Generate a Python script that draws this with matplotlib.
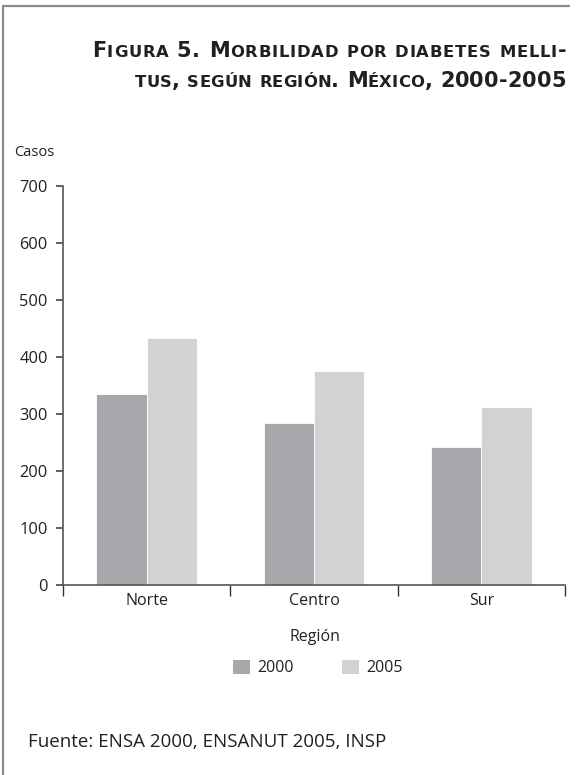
import matplotlib
matplotlib.use("Agg")
import matplotlib.pyplot as plt
import numpy as np
from matplotlib.lines import Line2D
from matplotlib.patches import Patch

regions = ["Norte", "Centro", "Sur"]
years = ["2000", "2005"]
values_2000 = [335, 284, 242]
values_2005 = [433, 375, 312]
y_ticks = [0, 100, 200, 300, 400, 500, 600, 700]

title_line1 = "Figura 5. Morbilidad por diabetes melli-"
title_line2 = "tus, según región. México, 2000-2005"
source_text = "Fuente: ENSA 2000, ENSANUT 2005, INSP"

c2000 = "#a7a8ab"
c2005 = "#d1d2d4"
txt = "#231f20"
axc = "#555555"

W, H = 576, 775
fig = plt.figure(figsize=(W / 100, H / 100), dpi=100)
fig.patch.set_facecolor("white")

body_font = "Open Sans"
title_font = "DejaVu Sans"

# frame lines
fig.add_artist(Line2D([3 / W, 3 / W], [0, 1 - 6 / H], transform=fig.transFigure,
                      color="#8a8a8a", lw=1.6, solid_capstyle="butt"))
fig.add_artist(Line2D([2.2 / W, 570 / W], [1 - 6 / H, 1 - 6 / H], transform=fig.transFigure,
                      color="#8a8a8a", lw=1.6, solid_capstyle="butt"))

ax = fig.add_axes([63 / W, 1 - 585 / H, (565 - 63) / W, (585 - 186) / H])
x = np.arange(len(regions))
bw = 0.3
ax.bar(x - bw / 2, values_2000, width=bw, color=c2000, edgecolor="white", linewidth=0.6, label=years[0])
ax.bar(x + bw / 2, values_2005, width=bw, color=c2005, edgecolor="white", linewidth=0.6, label=years[1])

ax.set_xlim(-0.5, 2.5)
ax.set_ylim(0, 700)
for s in ["top", "right"]:
    ax.spines[s].set_visible(False)
for s in ["left", "bottom"]:
    ax.spines[s].set_color(axc)
    ax.spines[s].set_linewidth(1.2)

ax.set_yticks(y_ticks)
ax.set_yticklabels([str(v) for v in y_ticks], fontsize=11.8, color=txt, family=body_font)
ax.tick_params(axis="y", direction="out", length=5, width=1.1, color="#333333", pad=6)

ax.set_xticks([-0.5, 0.5, 1.5, 2.5])
ax.set_xticklabels([])
ax.tick_params(axis="x", which="major", direction="out", length=8, width=1.0, color="#333333")
ax.set_xticks(x, minor=True)
ax.set_xticklabels(regions, minor=True, fontsize=11.5, color=txt, family=body_font)
ax.tick_params(axis="x", which="minor", length=0, pad=6)

fig.text(14 / W, 1 - 153 / H, "Casos", fontsize=10.5, color=txt, family=body_font, va="center", ha="left")
fig.text(315 / W, 1 - 637 / H, "Región", fontsize=11.5, color=txt, family=body_font, va="center", ha="center")

handles = [Patch(facecolor=c2000, edgecolor="none"), Patch(facecolor=c2005, edgecolor="none")]
leg = fig.legend(handles, years, loc="center", bbox_to_anchor=(318 / W, 1 - 668 / H), ncol=2,
                 frameon=False, handlelength=1.05, handleheight=1.05, handletextpad=0.5,
                 columnspacing=3.0, prop={"family": body_font, "size": 11.5})
for t in leg.get_texts():
    t.set_color(txt)

fig.text(28 / W, 1 - 742 / H, source_text, fontsize=13.5, color=txt, family=body_font, va="center", ha="left")

# small-caps title with tracking
renderer = fig.canvas.get_renderer()


def measure(s, size):
    t1 = fig.text(0, 0, s + "|", fontsize=size, family=title_font, weight="bold")
    t2 = fig.text(0, 0, "|", fontsize=size, family=title_font, weight="bold")
    w = t1.get_window_extent(renderer).width - t2.get_window_extent(renderer).width
    t1.remove(); t2.remove()
    return w


def smallcaps(text, x_left_px, x_right_px, y_base_px, big=15.0, small=11.8):
    items = []
    natural = 0
    for ch in text:
        sm = ch.islower()
        c2 = ch.upper() if sm else ch
        size = small if sm else big
        w = measure(c2, size)
        items.append((c2, size, w))
        natural += w
    track = (x_right_px - x_left_px - natural) / (len(items) - 1)
    xpos = x_left_px
    for c2, size, w in items:
        if c2 != " ":
            fig.text(xpos / W, 1 - y_base_px / H, c2, fontsize=size, family=title_font,
                     weight="bold", color=txt, va="baseline", ha="left")
        xpos += w + track


smallcaps(title_line1, 92, 566, 57)
smallcaps(title_line2, 135, 566, 87)

fig.savefig("out.png", dpi=100, facecolor="white")
